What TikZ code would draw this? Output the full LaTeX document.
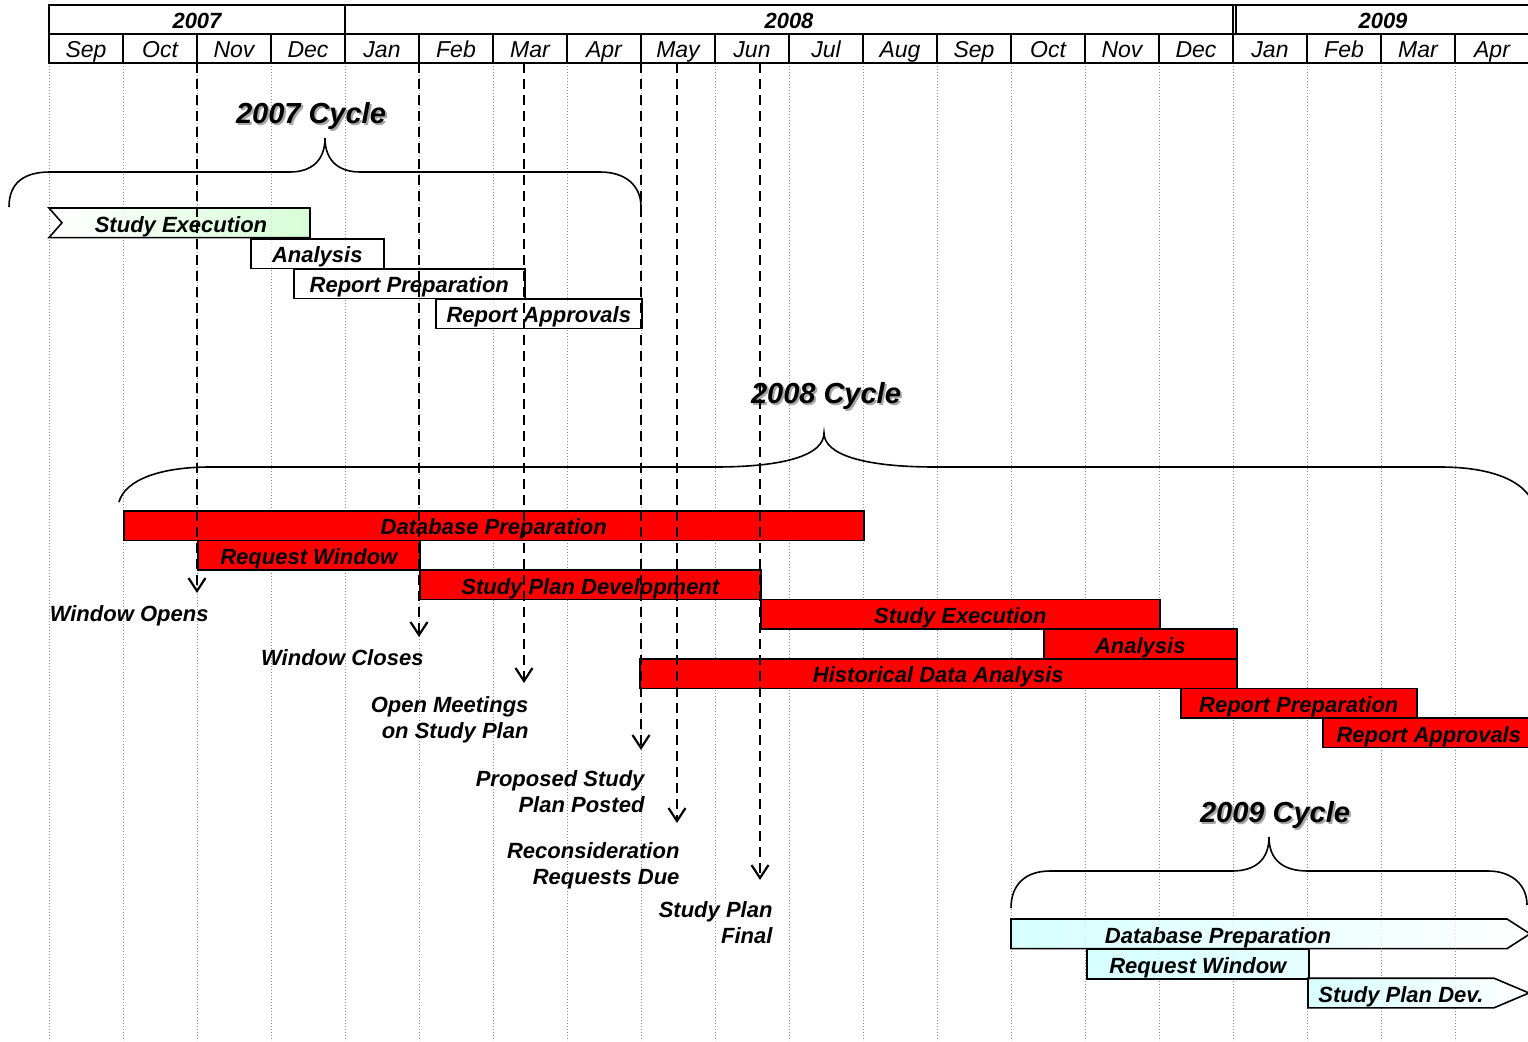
\documentclass[tikz,border=0pt]{standalone}
\usepackage{fontspec}
\setmainfont{Liberation Sans}
\usetikzlibrary{arrows.meta}

\begin{document}
\begin{tikzpicture}[x=1pt, y=-1pt,
  every node/.style={font=\bfseries\itshape\fontsize{22}{26}\selectfont},
  grid line/.style={black!45, line width=.8pt, dash pattern=on 1pt off 2pt},
  header/.style={line width=2pt},
  month cell/.style={draw, line width=2pt, inner sep=0pt, minimum width=74pt, minimum height=29pt,
    text height=23.5pt, text depth=5.5pt, font=\itshape\fontsize{23}{26}\selectfont},
  year cell/.style={draw, line width=2pt, inner sep=0pt, minimum height=29pt, text height=23.5pt, text depth=5.5pt},
  bar text/.style={inner sep=0pt, text height=24pt, text depth=5.6pt},
  every bar/.style={bar text, draw, line width=1.6pt, minimum height=29.6pt, anchor=north west},
  bar07/.style={every bar, fill=white, fill opacity=.75, text opacity=1},
  bar08/.style={every bar, fill=red},
  bar09/.style={every bar, left color=cyan!20, right color=cyan!12, fill opacity=.8, text opacity=1},
  brace line/.style={line width=1.6pt},
  milestone/.style={line width=2.2pt, dash pattern=on 10pt off 6pt, -{Straight Barb[length=13pt,width=17pt]}},
  milestone label/.style={align=right, anchor=east},
  cycle label/.style={font=\bfseries\itshape\fontsize{29}{32}\selectfont, anchor=base},
  cycle shadow/.style={cycle label, text=black!35}]
\useasboundingbox (0,0) rectangle (1528,1041);

\foreach \k in {0,...,20}
  \draw[grid line] (49+74*\k,63) -- (49+74*\k,1041);

% cycle braces
\draw[brace line] (9,207) .. controls (9,182) and (25,172) .. (50,172) -- (290,172)
  .. controls (312,172) and (325,160) .. (325,138) .. controls (325,160) and (338,172) .. (360,172)
  -- (600,172) .. controls (625,172) and (641,185) .. (641,207);
\draw[brace line] (119,502) .. controls (125,480) and (160,467) .. (210,467) -- (715,467)
  .. controls (785,467) and (824,455) .. (824,433) .. controls (824,455) and (865,467) .. (935,467)
  -- (1440,467) .. controls (1490,467) and (1525,480) .. (1534,505);
\draw[brace line] (1011,908) .. controls (1011,885) and (1025,871) .. (1050,871) -- (1232,871)
  .. controls (1255,871) and (1269,860) .. (1269,837) .. controls (1269,860) and (1283,871) .. (1308,871)
  -- (1488,871) .. controls (1512,871) and (1527,885) .. (1527,905);

\node[cycle shadow] at (313,125) {2007 Cycle};
\node[cycle label] (cycle07) at (311,123) {2007 Cycle};
\node[cycle shadow] at (828,405) {2008 Cycle};
\node[cycle label] (cycle08) at (826,403) {2008 Cycle};
\node[cycle shadow] at (1277,824) {2009 Cycle};
\node[cycle label] (cycle09) at (1275,822) {2009 Cycle};

% 2007 cycle
\path[draw, line width=1.6pt, left color=white, right color=green!20, fill opacity=.8]
  (49,208) -- (310,208) -- (310,237.6) -- (49,237.6) -- (62,222.8) -- cycle;
\node[bar text] (task07-1) at (181,222.8) {Study Execution};
\foreach \a/\b/\r/\t [count=\n from 2] in {250/383/1/Analysis, 293/524/2/Report Preparation,
    435/641/3/Report Approvals}
  \node[bar07, minimum width={(\b-\a)*1pt}] (task07-\n) at (\a,208+30*\r) {\t};

% 2008 cycle
\foreach \a/\b/\r/\t [count=\n] in {123/863/0/Database Preparation, 197/419/1/Request Window,
    419/760/2/Study Plan Development, 760/1159/3/Study Execution, 1043/1236/4/Analysis,
    639/1236/5/Historical Data Analysis, 1180/1416/6/Report Preparation, 1322/1534/7/Report Approvals}
  \node[bar08, minimum width={(\b-\a)*1pt}] (task08-\n) at (\a,510+29.6*\r) {\t};

% 2009 cycle
\path[draw, line width=1.6pt, left color=cyan!20, right color=white, fill opacity=.8]
  (1011,919) -- (1507,919) -- (1530,933.8) -- (1507,948.6) -- (1011,948.6) -- cycle;
\node[bar text] (task09-1) at (1218,933.8) {Database Preparation};
\node[bar09, minimum width=222pt] (task09-2) at (1086,948.6) {Request Window};
\path[draw, line width=1.6pt, left color=cyan!20, right color=white, fill opacity=.8]
  (1308,978.2) -- (1494,978.2) -- (1529,993) -- (1494,1007.8) -- (1308,1007.8) -- cycle;
\node[bar text] (task09-3) at (1401,993) {Study Plan Dev.};

% milestones
\foreach \x/\y/\n in {197/593/opens, 419/637/closes, 524/683/meet, 641/750/posted, 677/823/recon, 760/880/final} {
  \coordinate (\n top) at (\x,63);
  \coordinate (\n tip) at (\x,\y);
  \draw[milestone] (\n top) -- (\n tip);
}
\node[milestone label] (opens) at (212,616) {Window Opens};
\node[milestone label] (closes) at (427,658) {Window Closes};
\node[milestone label] (meet) at (532,720) {Open Meetings\\on Study Plan};
\node[milestone label] (posted) at (648,792) {Proposed Study\\Plan Posted};
\node[milestone label] (recon) at (683,866) {Reconsideration\\Requests Due};
\node[milestone label] (final) at (776,923) {Study Plan\\Final};

% header
\node[year cell, minimum width=296pt] (y07) at (197,19.5) {2007};
\node[year cell, minimum width=888pt] (y08) at (789,19.5) {2008};
\node[year cell, minimum width=300pt] (y09) at (1383,19.5) {2009};
\draw[header] (1236,5) -- (1236,34);
\foreach \m [count=\i from 0] in {Sep,Oct,Nov,Dec,Jan,Feb,Mar,Apr,May,Jun,Jul,Aug,Sep,Oct,Nov,Dec,Jan,Feb,Mar,Apr}
  \node[month cell] (m\i) at (86+74*\i,48.5) {\m};
\end{tikzpicture}
\end{document}
